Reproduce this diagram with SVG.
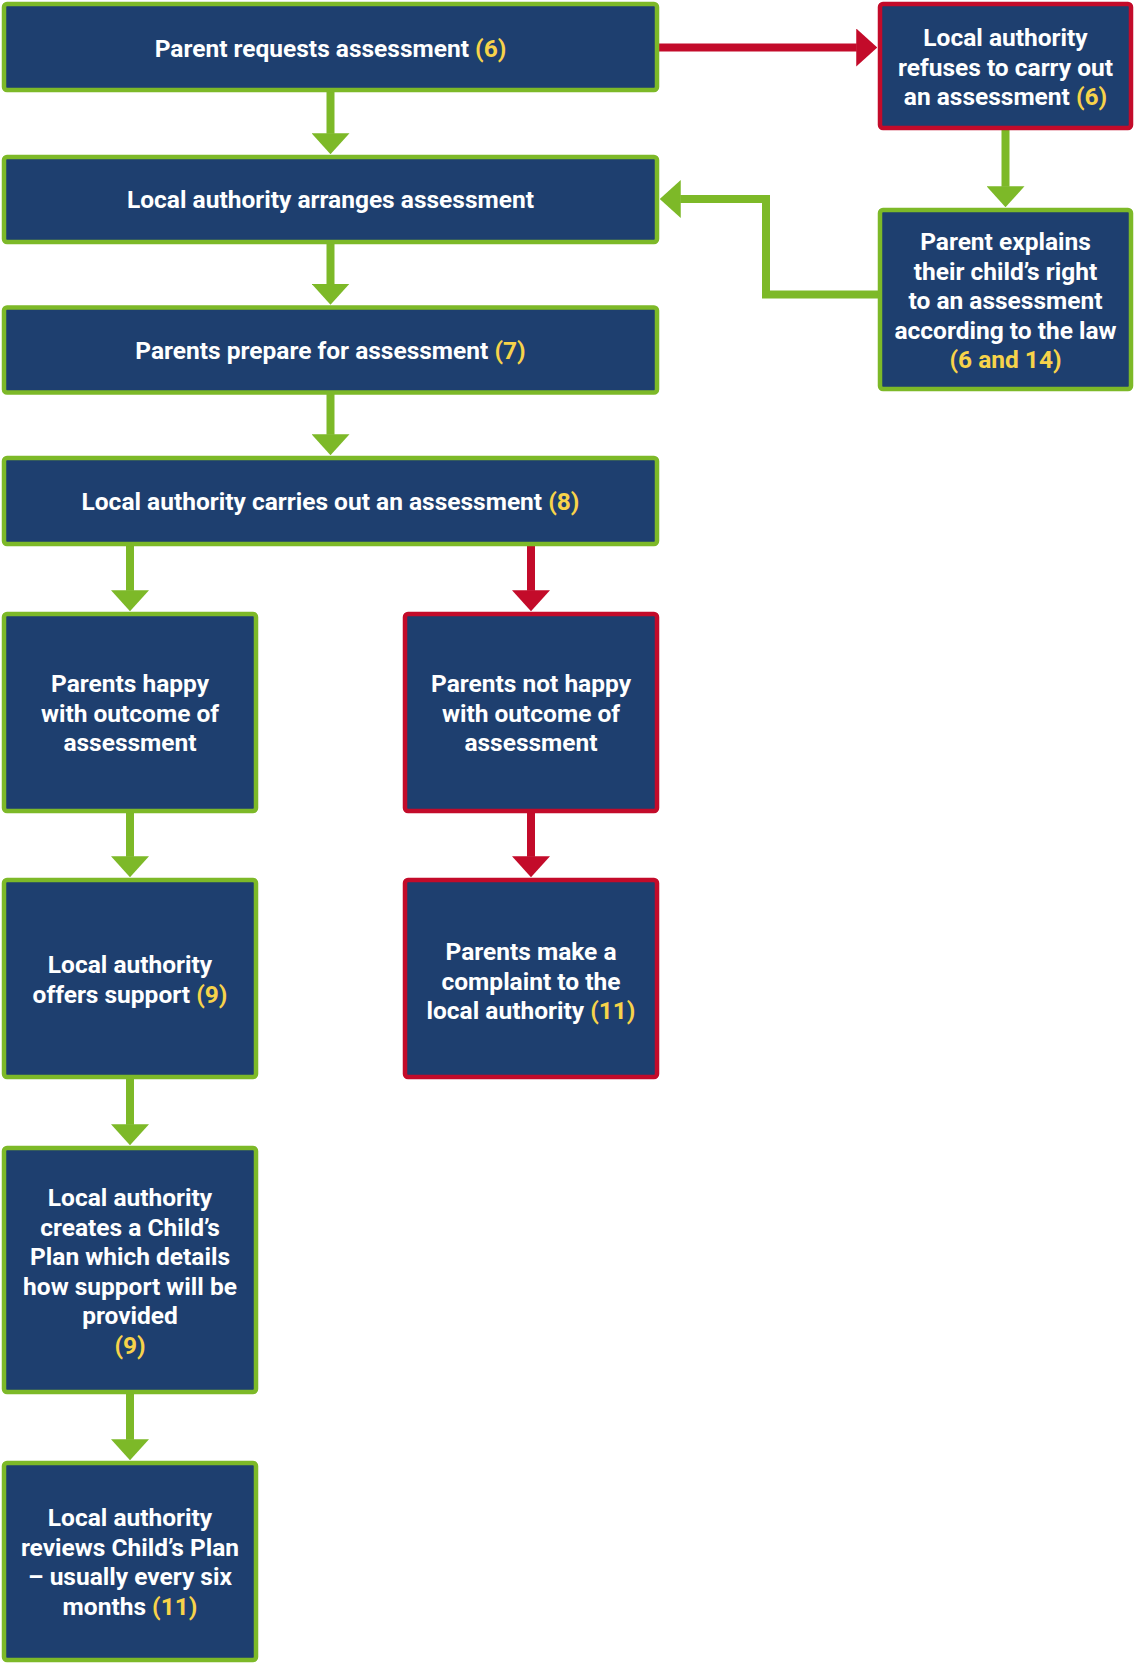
<svg xmlns="http://www.w3.org/2000/svg" width="1134" height="1664" viewBox="0 0 1134 1664">
<style>
.box{fill:#1E3F6F;stroke-width:4.5}
.g{stroke:#7DB928}
.r{stroke:#C30B2A}
.t{font-family:Roboto,"Liberation Sans",sans-serif;font-weight:700;font-size:24.5px;fill:#FFFFFF;text-anchor:middle}
.y{fill:#F7D34A}
.cg{fill:none;stroke:#7DB928;stroke-width:8}
.cr{fill:none;stroke:#C30B2A;stroke-width:8}
</style>
<defs>
<marker id="ag" markerUnits="userSpaceOnUse" viewBox="0 0 21 38" markerWidth="21" markerHeight="38" refX="0.5" refY="19" orient="auto"><path d="M0,0 L21,19 L0,38 Z" fill="#7DB928"/></marker>
<marker id="ar" markerUnits="userSpaceOnUse" viewBox="0 0 21 38" markerWidth="21" markerHeight="38" refX="0.5" refY="19" orient="auto"><path d="M0,0 L21,19 L0,38 Z" fill="#C30B2A"/></marker>
</defs>
<g id="connectors">
<path class="cg" d="M330.5,92 V133.75" marker-end="url(#ag)"/>
<path class="cg" d="M330.5,244 V284.25" marker-end="url(#ag)"/>
<path class="cg" d="M330.5,392.5 V434.75" marker-end="url(#ag)"/>
<path class="cg" d="M130,545 V590.75" marker-end="url(#ag)"/>
<path class="cr" d="M531,545 V590.75" marker-end="url(#ar)"/>
<path class="cg" d="M130,811 V856.75" marker-end="url(#ag)"/>
<path class="cr" d="M531,811 V856.75" marker-end="url(#ar)"/>
<path class="cg" d="M130,1077 V1124.75" marker-end="url(#ag)"/>
<path class="cg" d="M130,1392 V1439.75" marker-end="url(#ag)"/>
<path class="cr" d="M659,47.5 H856.75" marker-end="url(#ar)"/>
<path class="cg" d="M1005.5,130 V186.75" marker-end="url(#ag)"/>
<path class="cg" d="M878,294.5 H766 V199 H680.25" marker-end="url(#ag)"/>
</g>
<g id="n1"><rect class="box g" x="4" y="4" width="653" height="86" rx="3"/>
<text class="t" x="330.5" y="57">Parent requests assessment <tspan class="y">(6)</tspan></text></g>
<g id="n2"><rect class="box g" x="4" y="157" width="653" height="85" rx="3"/>
<text class="t" x="330.5" y="208">Local authority arranges assessment</text></g>
<g id="n3"><rect class="box g" x="4" y="307.5" width="653" height="85" rx="3"/>
<text class="t" x="330.5" y="359">Parents prepare for assessment <tspan class="y">(7)</tspan></text></g>
<g id="n4"><rect class="box g" x="4" y="458" width="653" height="86" rx="3"/>
<text class="t" x="330.5" y="510">Local authority carries out an assessment <tspan class="y">(8)</tspan></text></g>
<g id="n5"><rect class="box g" x="4" y="614" width="252" height="197" rx="3"/>
<text class="t" x="130" y="692">Parents happy</text>
<text class="t" x="130" y="721.5">with outcome of</text>
<text class="t" x="130" y="751">assessment</text></g>
<g id="n6"><rect class="box r" x="405" y="614" width="252" height="197" rx="3"/>
<text class="t" x="531" y="692">Parents not happy</text>
<text class="t" x="531" y="721.5">with outcome of</text>
<text class="t" x="531" y="751">assessment</text></g>
<g id="n7"><rect class="box g" x="4" y="880" width="252" height="197" rx="3"/>
<text class="t" x="130" y="973">Local authority</text>
<text class="t" x="130" y="1003">offers support <tspan class="y">(9)</tspan></text></g>
<g id="n8"><rect class="box r" x="405" y="880" width="252" height="197" rx="3"/>
<text class="t" x="531" y="960">Parents make a</text>
<text class="t" x="531" y="989.5">complaint to the</text>
<text class="t" x="531" y="1019">local authority <tspan class="y">(11)</tspan></text></g>
<g id="n9"><rect class="box g" x="4" y="1148" width="252" height="244" rx="3"/>
<text class="t" x="130" y="1206">Local authority</text>
<text class="t" x="130" y="1235.5">creates a Child’s</text>
<text class="t" x="130" y="1265">Plan which details</text>
<text class="t" x="130" y="1294.5">how support will be</text>
<text class="t" x="130" y="1324">provided</text>
<text class="t y" x="130" y="1353.5">(9)</text></g>
<g id="n10"><rect class="box g" x="4" y="1463" width="252" height="197" rx="3"/>
<text class="t" x="130" y="1526">Local authority</text>
<text class="t" x="130" y="1555.5">reviews Child’s Plan</text>
<text class="t" x="130" y="1585">– usually every six</text>
<text class="t" x="130" y="1614.5">months <tspan class="y">(11)</tspan></text></g>
<g id="n11"><rect class="box r" x="880" y="4" width="251" height="124" rx="3"/>
<text class="t" x="1005.5" y="46">Local authority</text>
<text class="t" x="1005.5" y="75.5">refuses to carry out</text>
<text class="t" x="1005.5" y="105">an assessment <tspan class="y">(6)</tspan></text></g>
<g id="n12"><rect class="box g" x="880" y="210" width="251" height="179" rx="3"/>
<text class="t" x="1005.5" y="250">Parent explains</text>
<text class="t" x="1005.5" y="279.5">their child’s right</text>
<text class="t" x="1005.5" y="309">to an assessment</text>
<text class="t" x="1005.5" y="338.5">according to the law</text>
<text class="t y" x="1005.5" y="368">(6 and 14)</text></g>
</svg>
